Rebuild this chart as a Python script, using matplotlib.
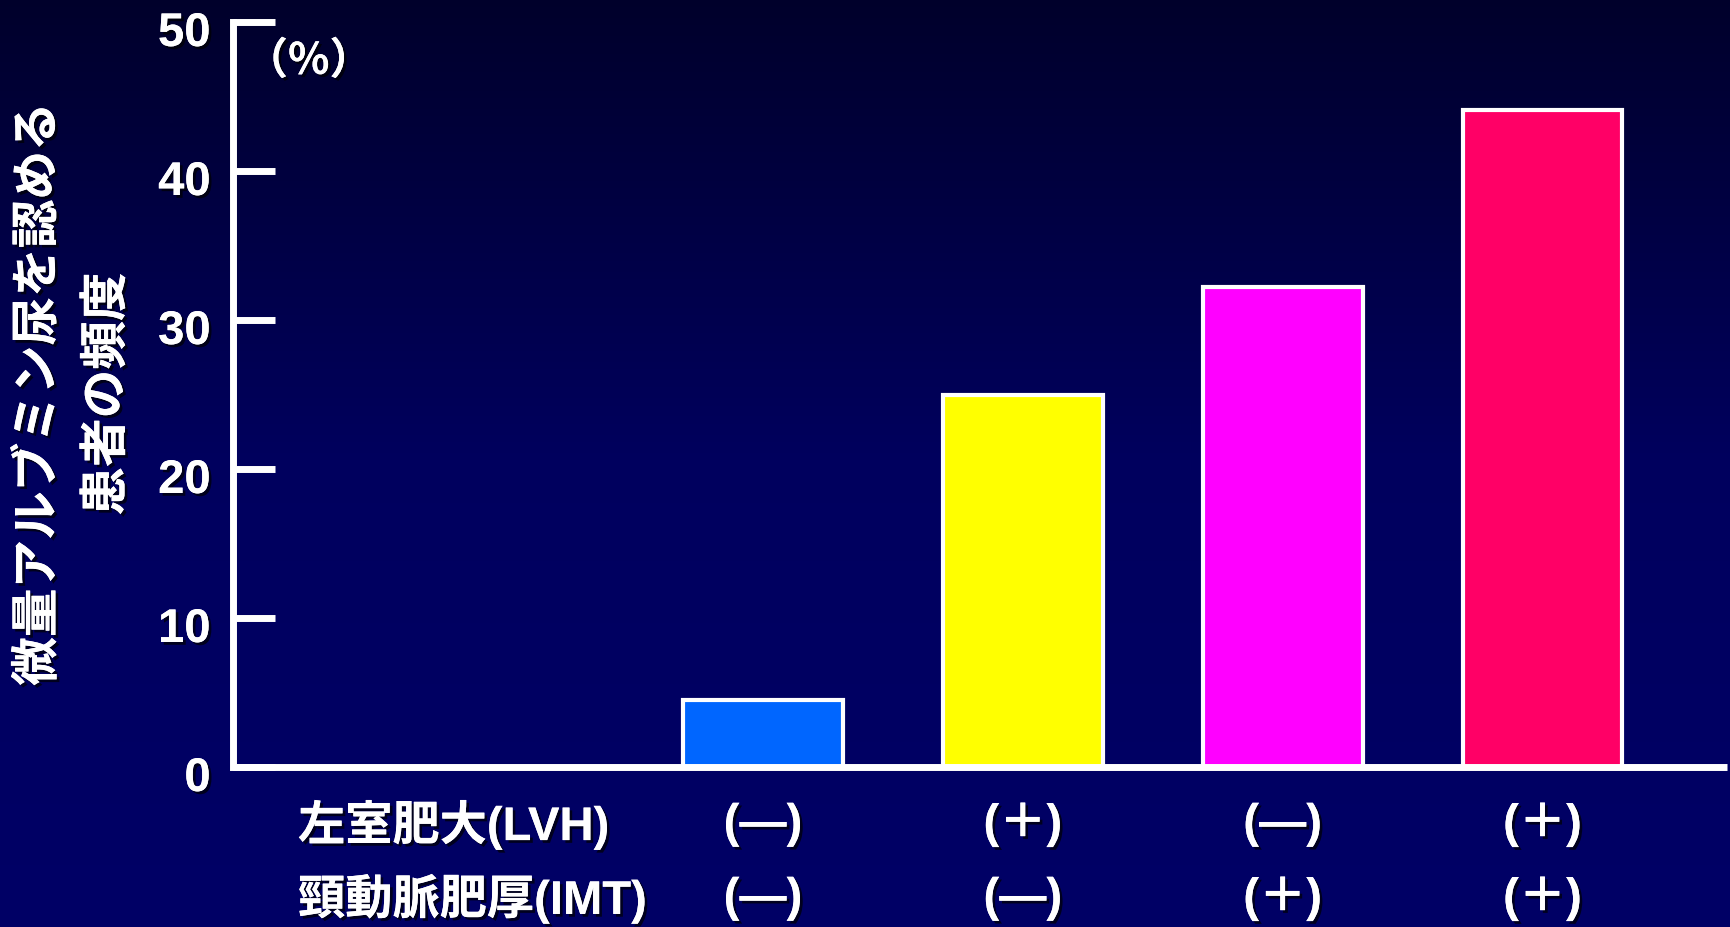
import matplotlib
matplotlib.use("Agg")
import matplotlib.pyplot as plt
import matplotlib.patheffects as pe
import matplotlib.transforms as mtrans
import numpy as np

plt.rcParams['font.family'] = ['Liberation Sans', 'Noto Sans CJK JP', 'DejaVu Sans']
plt.rcParams['font.weight'] = 'bold'

# data
values = [4.5, 25.0, 32.2, 44.1]
bar_colors = ['#0066FF', '#FFFF00', '#FF00FF', '#FF0066']
lvh_labels = ['(—)', '(＋)', '(—)', '(＋)']
imt_labels = ['(—)', '(—)', '(＋)', '(＋)']
row_titles = ['左室肥大(LVH)', '頸動脈肥厚(IMT)']
yticks = [0, 10, 20, 30, 40, 50]
ylabel = '微量アルブミン尿を認める\n患者の頻度'

W, H = 1730, 927
fig = plt.figure(figsize=(W / 100, H / 100), dpi=100)

# background gradient, dark on top, navy at the bottom
bg = fig.add_axes([0, 0, 1, 1])
grad = np.linspace(0, 1, 256).reshape(-1, 1)
top = np.array([0.0, 0.0, 0.17])
mid = np.array([0.0, 0.0, 0.37])
bot = np.array([0.0, 0.0, 0.40])
cols = np.where(grad < 0.5, top + (mid - top) * (grad / 0.5), mid + (bot - mid) * ((grad - 0.5) / 0.5))
img = cols.reshape(256, 1, 3)
bg.imshow(img, aspect='auto', extent=[0, 1, 0, 1], origin='upper')
bg.set_axis_off()

shadow = [pe.withSimplePatchShadow(offset=(2, -2), shadow_rgbFace='black', alpha=0.7), pe.Normal()]

# plot axes: y-axis at x=233, x-axis at y=767, top (50) at y=22
x0, x1 = 233, 1727
y0, y1 = 767, 22
ax = fig.add_axes([x0 / W, 1 - y0 / H, (x1 - x0) / W, (y0 - y1) / H])
ax.patch.set_alpha(0)

xpos = np.arange(len(values))
ax.bar(xpos, values, width=0.615, color=bar_colors, edgecolor='white', linewidth=3, zorder=3)
ax.set_xlim(-2.04, 3.71)
ax.set_ylim(0, 50)

for s in ['top', 'right']:
    ax.spines[s].set_visible(False)
for s in ['left', 'bottom']:
    ax.spines[s].set_color('white')
    ax.spines[s].set_linewidth(5)
    ax.spines[s].set_zorder(4)
ax.spines['bottom'].set_capstyle('butt')

ax.set_xticks([])
ax.set_yticks(yticks)
ax.set_yticklabels([str(t) for t in yticks])
ax.tick_params(axis='y', direction='in', length=30, width=5, color='white',
               labelcolor='white', labelsize=34, pad=16)
for lab in ax.get_yticklabels():
    lab.set_fontweight('bold')
    lab.set_path_effects(shadow)
    lab.set_transform(lab.get_transform() + mtrans.ScaledTranslation(0, -0.07, fig.dpi_scale_trans))

ax.text(0.008, 0.948, '（%）', transform=ax.transAxes, color='white', fontsize=31,
        fontweight='bold', ha='left', va='center', path_effects=shadow,
        family=['Noto Sans CJK JP', 'DejaVu Sans'])

# category rows under the axis
row_y = [825, 899]
for ry, title, labs in zip(row_y, row_titles, [lvh_labels, imt_labels]):
    fig.text(298 / W, 1 - ry / H, title, color='white', fontsize=34, fontweight='bold',
             ha='left', va='center', path_effects=shadow)
    for xp, lab in zip(xpos, labs):
        xd = ax.transData.transform((xp, 0))[0]
        fig.text(xd / W, 1 - ry / H, lab, color='white', fontsize=34, fontweight='bold',
                 ha='center', va='center', path_effects=shadow)

fig.text(72 / W, 1 - 394 / H, ylabel, rotation=90, color='white', fontsize=35,
         fontweight='bold', ha='center', va='center', ma='center', linespacing=1.5,
         path_effects=shadow, family=['Noto Sans CJK JP', 'DejaVu Sans'])

fig.savefig('out.png', dpi=100)
